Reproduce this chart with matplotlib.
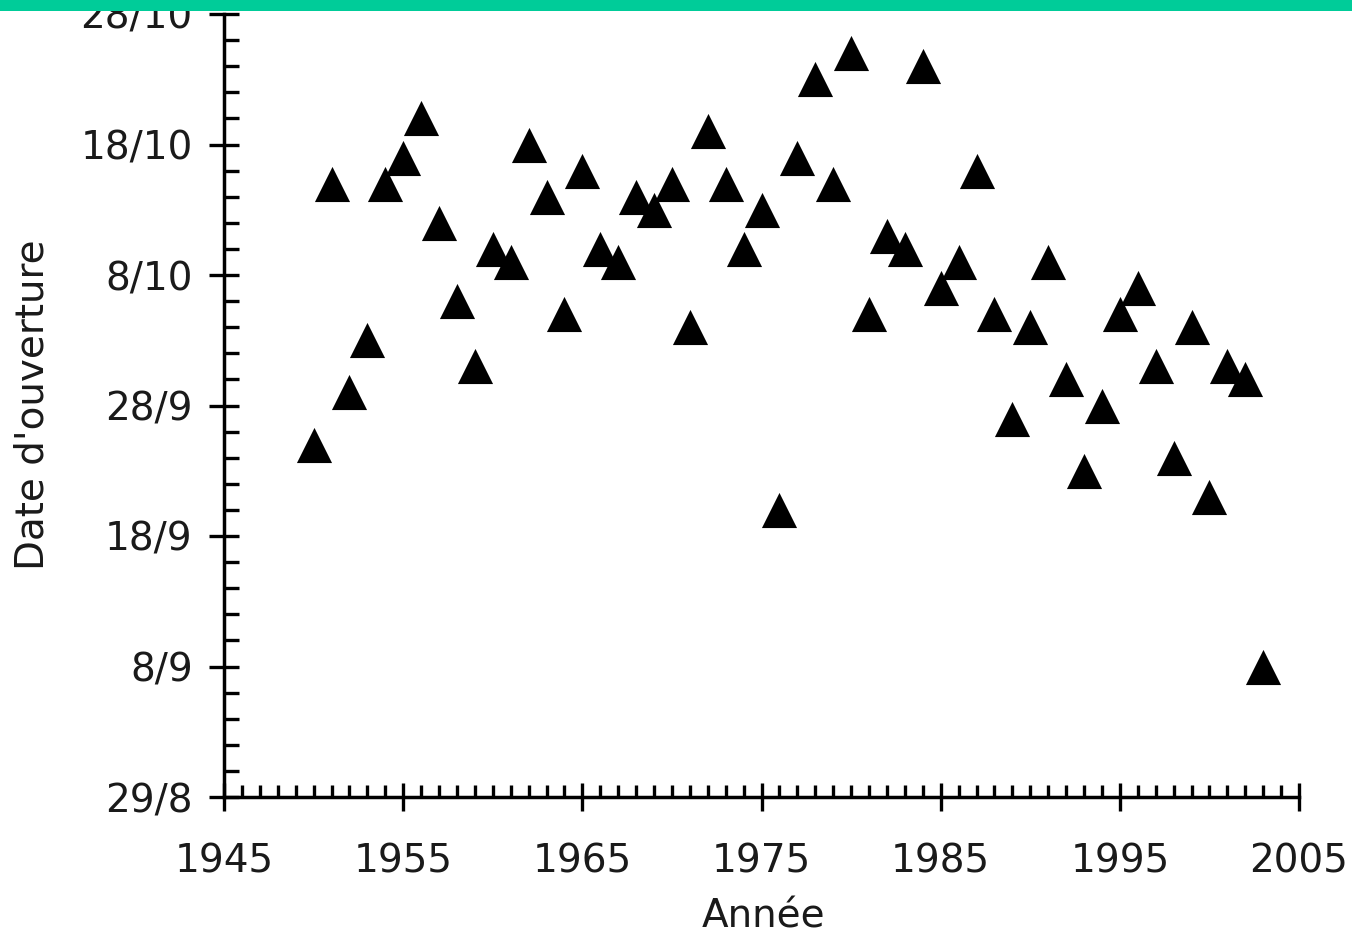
import matplotlib
matplotlib.use("Agg")
import matplotlib.pyplot as plt
import matplotlib.dates as mdates
from matplotlib.ticker import FixedLocator, MultipleLocator
from matplotlib.patches import Rectangle
import datetime as dt

# ---- data ----
years = list(range(1950, 2004))
opening_dates = [
    "25/9", "15/10", "29/9", "3/10", "15/10", "17/10", "20/10", "12/10", "6/10", "1/10",
    "10/10", "9/10", "18/10", "14/10", "5/10", "16/10", "10/10", "9/10", "14/10", "13/10",
    "15/10", "4/10", "19/10", "15/10", "10/10", "13/10", "20/9", "17/10", "23/10", "15/10",
    "25/10", "5/10", "11/10", "10/10", "24/10", "7/10", "9/10", "16/10", "5/10", "27/9",
    "4/10", "9/10", "30/9", "23/9", "28/9", "5/10", "7/10", "1/10", "24/9", "4/10",
    "21/9", "1/10", "30/9", "8/9",
]
ytick_labels = ["29/8", "8/9", "18/9", "28/9", "8/10", "18/10", "28/10"]
xtick_years = [1945, 1955, 1965, 1975, 1985, 1995, 2005]


def to_num(s):
    d, m = s.split("/")
    return mdates.date2num(dt.datetime(2000, int(m), int(d)))


yvals = [to_num(s) for s in opening_dates]
ytick_pos = [to_num(s) for s in ytick_labels]

W, H = 1359, 935
fig = plt.figure(figsize=(W / 100, H / 100), dpi=100)
plt.rcParams['font.family'] = ['DejaVu Sans']

left = 224 / W
right = 1299 / W
bottom = (H - 797) / H
top = (H - 14) / H
ax = fig.add_axes([left, bottom, right - left, top - bottom])
ax.set_facecolor("white")

ax.scatter(years, yvals, marker="^", s=640, color="black", linewidths=0, zorder=3,
           clip_on=False)

ax.set_xlim(1945, 2005)
ax.set_ylim(ytick_pos[0], ytick_pos[-1])

for s in ["top", "right"]:
    ax.spines[s].set_visible(False)
for s in ["left", "bottom"]:
    ax.spines[s].set_linewidth(2.5)
    ax.spines[s].set_color("black")

ax.xaxis.set_major_locator(FixedLocator(xtick_years))
ax.xaxis.set_minor_locator(MultipleLocator(1))
ax.set_xticklabels([str(y) for y in xtick_years])
ax.yaxis.set_major_locator(FixedLocator(ytick_pos))
ax.yaxis.set_minor_locator(MultipleLocator(2))
ax.set_yticklabels(ytick_labels)

txt_color = "#1a1a1a"
ax.tick_params(axis="x", which="major", direction="inout", length=19.5, width=2.4,
               labelsize=28, pad=23, colors="black", labelcolor=txt_color)
ax.tick_params(axis="x", which="minor", direction="in", length=8.6, width=2.4)
ax.tick_params(axis="y", which="major", direction="inout", length=21, width=2.4,
               labelsize=28, pad=12, colors="black", labelcolor=txt_color)
ax.tick_params(axis="y", which="minor", direction="in", length=10.8, width=2.4)

fig.text(763 / W, 1 - 916 / H, "Année", fontsize=28, ha="center", va="center",
         color=txt_color)
fig.text(33 / W, 1 - 405 / H, "Date d'ouverture", fontsize=28, ha="center",
         va="center", rotation=90, color=txt_color)

# teal banner at top
fig.patches.append(Rectangle((0, 1 - 11 / H), 1352 / W, 11 / H,
                             transform=fig.transFigure, facecolor="#00CC99",
                             edgecolor="none", zorder=10))

fig.savefig("out.png", dpi=100, facecolor="white")
